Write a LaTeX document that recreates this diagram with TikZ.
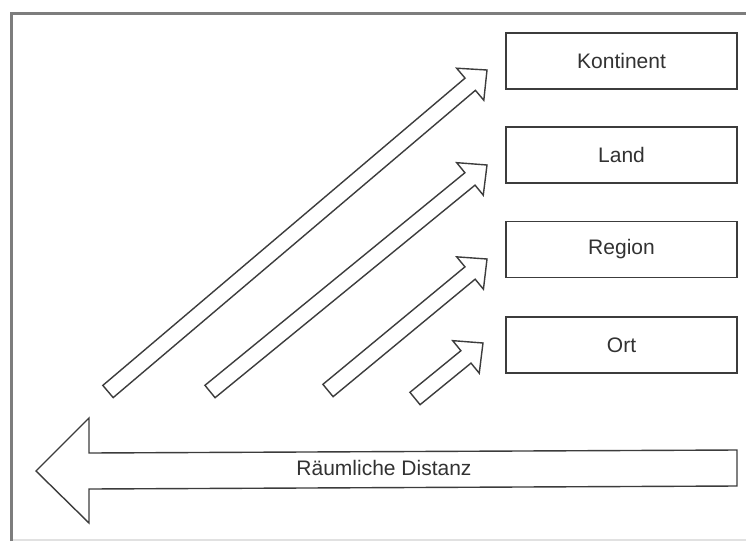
\documentclass[tikz,border=0pt]{standalone}
\usepackage{fontspec}
\setmainfont{Liberation Sans}
\usetikzlibrary{calc}
\definecolor{boxline}{RGB}{60,60,60}
\definecolor{textcol}{RGB}{50,50,50}
\definecolor{framecol}{RGB}{125,125,125}
\definecolor{framelight}{RGB}{225,225,225}
\newcommand\blockarr[1]{%
  \coordinate (#1h) at ($(#1b)!22pt!(#1a)$);
  \draw[blockline]
    ($(#1a)!8pt!90:(#1b)$) -- ($(#1h)!8pt!90:(#1b)$) -- ($(#1h)!21pt!90:(#1b)$)
    -- (#1b) -- ($(#1h)!21pt!-90:(#1b)$) -- ($(#1h)!8pt!-90:(#1b)$)
    -- ($(#1a)!8pt!-90:(#1b)$) -- cycle;}
\begin{document}
\begin{tikzpicture}[x=1pt,y=-1pt,
  levelbox/.style={draw=boxline, line width=1.8pt, minimum width=231pt, minimum height=56pt,
    inner sep=0pt, font=\fontsize{21}{25}\selectfont, text=textcol},
  blockline/.style={draw=boxline, line width=1.4pt, fill=white, line join=miter},
  framestyle/.style={draw=framecol, line width=3pt}]
\useasboundingbox (0,0) rectangle (746,541);
\fill[white] (0,0) rectangle (746,541);
% frame
\draw[framecol, line width=3pt] (11.5,541) -- (11.5,13.5) -- (746,13.5);
\draw[framelight, line width=1.5pt] (13,540) -- (746,540);
% level boxes
\node[levelbox] (kontinent) at (621.5,61) {Kontinent};
\node[levelbox] (land) at (621.5,155) {Land};
\node[levelbox] (region) at (621.5,249.5) {Region};
\node[levelbox] (ort) at (621.5,345) {Ort};
% diagonal block arrows
\coordinate (ka) at (108,391.5); \coordinate (kb) at (487,70);
\coordinate (la) at (210,391.5); \coordinate (lb) at (487,165);
\coordinate (ra) at (328,390.5); \coordinate (rb) at (487,259);
\coordinate (oa) at (415,398.5); \coordinate (ob) at (483,343);
\blockarr{k}
\blockarr{l}
\blockarr{r}
\blockarr{o}
% bottom distance arrow
\coordinate (dtip) at (36,471);
\coordinate (dend) at (737,468);
\draw[blockline] (dend |- 0,450) -- (89,453) -- (89,418) -- (dtip) -- (89,523) -- (89,489) -- (dend |- 0,486) -- cycle;
\node[font=\fontsize{21}{25}\selectfont, text=textcol, inner sep=0pt] (distanz) at (384,468) {Räumliche Distanz};
\end{tikzpicture}
\end{document}
